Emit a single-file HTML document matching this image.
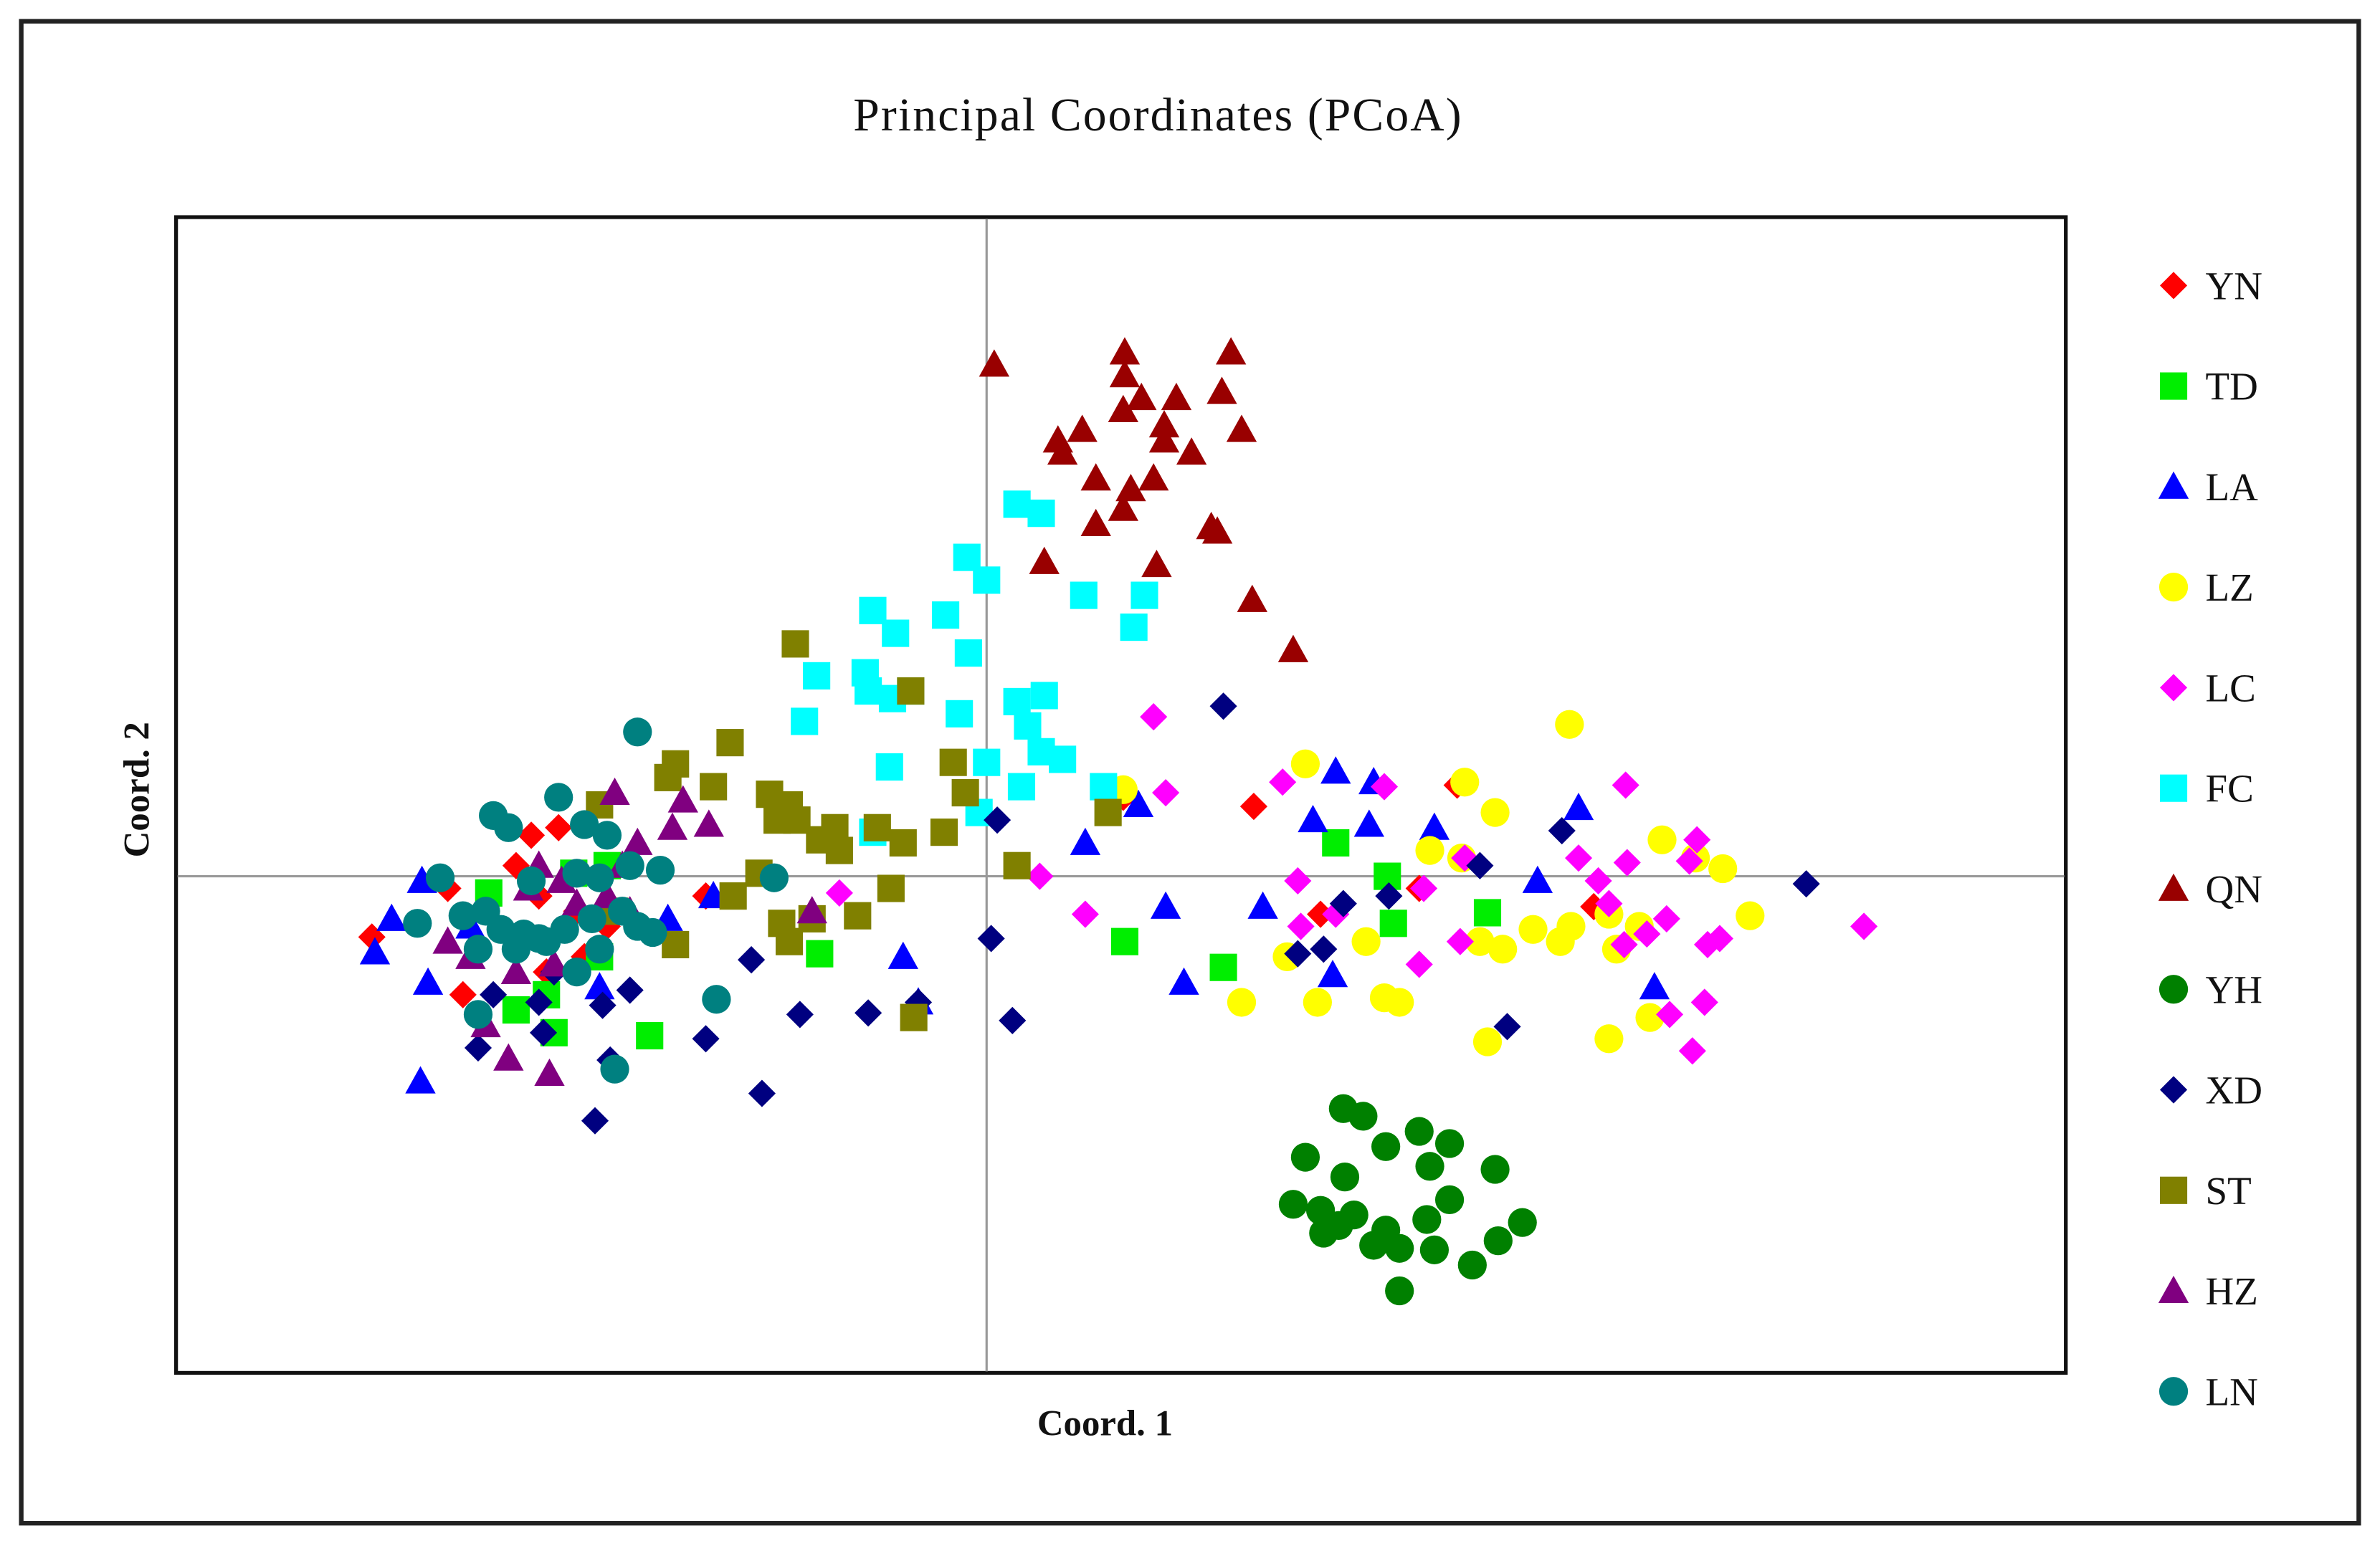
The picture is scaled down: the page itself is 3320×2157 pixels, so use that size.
<!DOCTYPE html>
<html><head><meta charset="utf-8"><style>
html,body{margin:0;padding:0;background:#fff;}
svg{display:block;}
text{font-family:"Liberation Serif",serif;fill:#111;}
</style></head><body>
<svg id="chart" xmlns="http://www.w3.org/2000/svg" width="3320" height="2157" viewBox="0 0 1568 1018" preserveAspectRatio="none">
<rect x="0" y="0" width="1568" height="1018" fill="#fff"/>
<rect x="14" y="14" width="1540" height="989" fill="none" stroke="#222" stroke-width="3"/>
<text x="763" y="86" font-size="31" text-anchor="middle" letter-spacing="1">Principal Coordinates (PCoA)</text>
<rect x="116" y="143" width="1245" height="761" fill="#fff" stroke="#111" stroke-width="2.5"/>
<g id="axes"></g>
<g id="marks"></g>
<text x="728" y="945" font-size="24" text-anchor="middle" font-weight="bold">Coord. 1</text>
<text x="0" y="0" font-size="24" text-anchor="middle" font-weight="bold" transform="translate(98,520) rotate(-90)">Coord. 2</text>
<g id="legend"></g>
</svg>
<script>
const groups = ["YN","TD","LA","LZ","LC","FC","QN","YH","XD","ST","HZ","LN"];
const colors = ["#ff0000","#00ee00","#0000ff","#ffff00","#ff00ff","#00ffff","#990000","#008000","#000080","#808000","#800080","#008080"];
const shapes = ["diamond","square","triangle","circle","diamond","square","triangle","circle","diamond","square","triangle","circle"];

const YN = [[-4.05,-0.40],[-3.00,0.27],[-2.82,0.32],[-3.10,0.07],[-2.95,-0.13],[-2.70,-0.23],[-2.50,-0.33],[-2.90,-0.63],[-2.65,-0.53],[-3.45,-0.78],[-1.85,-0.13],[-3.55,-0.08],[1.76,0.46],[2.20,-0.25],[2.85,-0.08],[3.10,0.60],[4.00,-0.20],[0.90,0.52]];
const TD = [[-3.28,-0.11],[-2.72,0.02],[-2.50,0.07],[-2.55,-0.53],[-3.10,-0.88],[-2.85,-1.03],[-2.22,-1.05],[-1.10,-0.51],[0.91,-0.43],[1.56,-0.60],[2.30,0.22],[2.64,0],[2.68,-0.31],[3.30,-0.24],[-2.90,-0.78]];
const LA = [[-3.72,-0.03],[-3.92,-0.28],[-4.03,-0.50],[-3.68,-0.70],[-3.73,-1.35],[-3.40,-0.33],[-2.10,-0.28],[-1.80,-0.13],[-0.55,-0.53],[-0.45,-0.83],[0.65,0.22],[1.18,-0.20],[1.30,-0.70],[1.82,-0.20],[2.15,0.37],[2.30,0.69],[2.55,0.62],[2.52,0.34],[2.95,0.32],[2.28,-0.65],[3.63,-0.03],[3.90,0.45],[4.40,-0.73],[1.00,0.47],[-2.55,-0.73]];
const LZ = [[2.10,0.74],[3.15,0.62],[3.35,0.42],[3.84,1.00],[2.92,0.17],[3.13,0.12],[4.45,0.24],[4.85,0.05],[4.67,0.12],[5.03,-0.26],[4.10,-0.25],[4.30,-0.33],[3.85,-0.33],[3.60,-0.35],[3.78,-0.43],[4.15,-0.48],[3.40,-0.48],[3.25,-0.43],[2.50,-0.43],[1.98,-0.53],[1.68,-0.83],[2.18,-0.83],[2.62,-0.80],[2.72,-0.83],[3.30,-1.09],[4.10,-1.07],[4.37,-0.93],[0.90,0.57]];
const LC = [[1.10,1.05],[1.18,0.55],[1.95,0.62],[2.62,0.59],[2.05,-0.03],[2.88,-0.08],[2.07,-0.33],[3.12,-0.43],[2.85,-0.58],[4.21,0.60],[3.90,0.12],[4.22,0.09],[4.03,-0.03],[4.68,0.24],[4.63,0.10],[4.10,-0.18],[4.48,-0.28],[4.35,-0.38],[4.20,-0.45],[4.75,-0.45],[4.83,-0.41],[4.73,-0.83],[4.50,-0.91],[4.65,-1.15],[5.78,-0.33],[0.65,-0.25],[0.35,0],[-0.97,-0.11],[3.15,0.12],[2.30,-0.25]];
const FC = [[0.20,2.45],[0.36,2.39],[-0.13,2.10],[0,1.95],[0.64,1.85],[1.04,1.85],[0.97,1.64],[-0.75,1.75],[-0.60,1.60],[-0.27,1.72],[-0.12,1.47],[-1.12,1.32],[-0.80,1.34],[-0.78,1.22],[-0.50,1.22],[-0.62,1.17],[-0.18,1.07],[-1.20,1.02],[0.20,1.15],[0.38,1.19],[0.27,0.99],[0.36,0.82],[0.50,0.77],[0,0.75],[-0.64,0.72],[0.23,0.59],[0.77,0.59],[-0.05,0.42],[-0.75,0.29]];
const QN = [[0.05,3.37],[0.91,3.45],[0.91,3.30],[1.61,3.45],[0.90,3.07],[1.02,3.15],[1.25,3.15],[1.55,3.19],[0.47,2.87],[0.63,2.94],[1.17,2.97],[1.17,2.87],[1.35,2.79],[1.68,2.94],[0.72,2.62],[0.95,2.55],[1.10,2.62],[0.72,2.32],[0.90,2.42],[1.48,2.30],[1.52,2.27],[0.38,2.07],[1.12,2.05],[1.75,1.82],[2.02,1.49],[0.50,2.79]];
const YH = [[2.35,-1.53],[2.48,-1.58],[2.85,-1.68],[3.05,-1.76],[2.63,-1.78],[2.10,-1.85],[2.92,-1.91],[2.36,-1.98],[3.35,-1.93],[2.02,-2.16],[2.20,-2.20],[3.05,-2.13],[2.42,-2.23],[2.90,-2.26],[2.22,-2.35],[2.55,-2.43],[2.72,-2.45],[2.95,-2.46],[3.53,-2.28],[3.37,-2.40],[3.20,-2.56],[2.72,-2.73],[2.32,-2.30],[2.63,-2.33]];
const XD = [[1.56,1.12],[0.07,0.37],[3.79,0.30],[3.25,0.07],[5.40,-0.05],[2.35,-0.18],[2.65,-0.13],[2.05,-0.51],[2.22,-0.48],[3.43,-0.99],[0.03,-0.41],[0.17,-0.95],[-0.45,-0.83],[-0.78,-0.90],[-1.23,-0.91],[-1.48,-1.43],[-1.85,-1.07],[-1.55,-0.55],[-2.35,-0.75],[-2.58,-1.61],[-2.48,-1.21],[-2.92,-1.03],[-2.53,-0.85],[-2.95,-0.83],[-3.35,-1.13],[-3.25,-0.78],[-2.85,-0.63]];
const ST = [[-1.26,1.53],[-0.50,1.22],[-1.69,0.88],[-2.05,0.74],[-2.10,0.65],[-1.80,0.59],[-1.43,0.54],[-1.30,0.47],[-1.38,0.37],[-1.25,0.37],[-1.00,0.32],[-1.10,0.24],[-0.97,0.17],[-0.72,0.32],[-0.55,0.22],[-0.28,0.29],[-0.22,0.75],[-0.14,0.55],[0.80,0.42],[0.20,0.07],[-1.50,0.02],[-1.67,-0.13],[-0.63,-0.08],[-0.85,-0.26],[-1.35,-0.31],[-1.30,-0.43],[-1.15,-0.28],[-2.05,-0.45],[-0.48,-0.93],[-2.45,-0.23],[-2.55,0.47]];
const HZ = [[-2.45,0.55],[-2.00,0.50],[-1.83,0.34],[-2.07,0.32],[-2.30,0.22],[-2.40,0.07],[-2.95,0.07],[-3.02,-0.08],[-2.80,-0.03],[-2.50,-0.13],[-3.55,-0.43],[-3.40,-0.53],[-3.10,-0.63],[-2.85,-0.58],[-3.30,-0.98],[-3.15,-1.20],[-2.88,-1.30],[-1.15,-0.23],[-2.70,-0.18],[-2.35,-0.23]];
const LN = [[-2.30,0.95],[-2.82,0.52],[-3.25,0.40],[-3.15,0.32],[-2.65,0.34],[-2.50,0.27],[-2.35,0.07],[-2.15,0.04],[-2.55,-0.01],[-2.70,0.02],[-3.00,-0.03],[-3.60,-0.01],[-1.40,-0.01],[-3.45,-0.26],[-3.30,-0.23],[-3.20,-0.35],[-3.05,-0.38],[-2.95,-0.41],[-2.78,-0.35],[-2.60,-0.28],[-2.40,-0.23],[-2.30,-0.33],[-2.20,-0.37],[-3.75,-0.31],[-3.35,-0.48],[-3.10,-0.48],[-2.90,-0.43],[-2.55,-0.48],[-2.70,-0.63],[-3.35,-0.91],[-1.78,-0.81],[-2.45,-1.27]];
const series = [YN,TD,LA,LZ,LC,FC,QN,YH,XD,ST,HZ,LN];

const NS = "http://www.w3.org/2000/svg";
const xScale = v => 650 + v * 100;
const yScale = v => 577 - v * 100;

function makeShape(shape, cx, cy, color) {
  let el;
  if (shape === "square") {
    el = document.createElementNS(NS, "rect");
    el.setAttribute("x", cx - 9); el.setAttribute("y", cy - 9);
    el.setAttribute("width", 18); el.setAttribute("height", 18);
  } else if (shape === "circle") {
    el = document.createElementNS(NS, "circle");
    el.setAttribute("cx", cx); el.setAttribute("cy", cy); el.setAttribute("r", 9.5);
  } else if (shape === "triangle") {
    el = document.createElementNS(NS, "polygon");
    el.setAttribute("points", `${cx},${cy-10} ${cx+10},${cy+8} ${cx-10},${cy+8}`);
  } else {
    el = document.createElementNS(NS, "polygon");
    el.setAttribute("points", `${cx},${cy-9} ${cx+9},${cy} ${cx},${cy+9} ${cx-9},${cy}`);
  }
  el.setAttribute("fill", color);
  return el;
}

const axes = document.getElementById("axes");
const xl = document.createElementNS(NS, "line");
xl.setAttribute("x1", 117); xl.setAttribute("x2", 1360);
xl.setAttribute("y1", yScale(0)); xl.setAttribute("y2", yScale(0));
xl.setAttribute("stroke", "#999"); xl.setAttribute("stroke-width", "1.5");


axes.appendChild(xl);
const yl = document.createElementNS(NS, "line");
yl.setAttribute("y1", 144); yl.setAttribute("y2", 903);
yl.setAttribute("x1", xScale(0)); yl.setAttribute("x2", xScale(0));
yl.setAttribute("stroke", "#999"); yl.setAttribute("stroke-width", "1.5");


axes.appendChild(yl);

const marks = document.getElementById("marks");
series.forEach((pts, gi) => {
  const g = document.createElementNS(NS, "g");
  
  
  pts.forEach(p => {
    const el = makeShape(shapes[gi], xScale(p[0]), yScale(p[1]), colors[gi]);
    
    
    g.appendChild(el);
  });
  marks.appendChild(g);
});

const legend = document.getElementById("legend");
groups.forEach((name, i) => {
  const y = 188 + i * 66.2;
  const g = document.createElementNS(NS, "g");
  
  
  g.appendChild(makeShape(shapes[i], 1432, y, colors[i]));
  const t = document.createElementNS(NS, "text");
  t.setAttribute("x", 1453); t.setAttribute("y", y + 9);
  t.setAttribute("font-size", "26");
  t.textContent = name;
  g.appendChild(t);
  legend.appendChild(g);
});
</script>
</body></html>
